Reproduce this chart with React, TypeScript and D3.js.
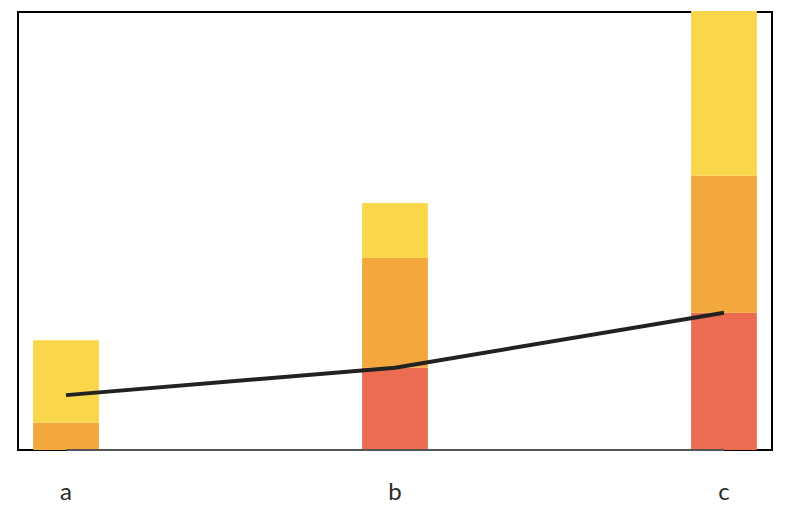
import React from "react";
import * as d3 from "d3";

const categories = ["a", "b", "c"];
const redValues = [0, 3, 5];
const orangeValues = [1, 4, 5];
const yellowValues = [3, 2, 6];
const lineValues = [2, 3, 5];
const seriesKeys = ["red", "orange", "yellow"];
const seriesColors = ["#EC6C52", "#F2A83C", "#F9D64A"];

const W = 792;
const H = 518;
const left = 18, right = 772, top = 11, bottom = 450;

export default function App() {
  const rows = categories.map((c, i) => ({
    cat: c,
    red: redValues[i],
    orange: orangeValues[i],
    yellow: yellowValues[i],
  }));
  const stack = d3.stack<any>().keys(seriesKeys)(rows);
  const x = d3
    .scaleBand()
    .domain(categories)
    .range([left, right])
    .paddingInner(0.8)
    .paddingOuter(0.046);
  const y = d3.scaleLinear().domain([0, 16]).range([bottom, top]);
  const cx = (c: string) => (x(c) as number) + x.bandwidth() / 2;
  const line = d3
    .line<number>()
    .x((_, i) => cx(categories[i]))
    .y((d) => y(d))
    .curve(d3.curveLinear);

  return (
    <svg
      width={W}
      height={H}
      style={{ position: "absolute", left: 0, top: 0 }}
    >
      <rect
        x={left}
        y={top + 1}
        width={right - left}
        height={bottom - top - 1}
        fill="none"
        stroke="#000"
        strokeWidth={2}
      />
      {stack.map((s, si) =>
        s.map((d, i) =>
          d[1] - d[0] > 0 ? (
            <rect
              key={si + "-" + i}
              x={x(categories[i])}
              y={y(d[1])}
              width={x.bandwidth()}
              height={y(d[0]) - y(d[1])}
              fill={seriesColors[si]}
            />
          ) : null
        )
      )}
      <line
        x1={cx(categories[0])}
        x2={cx(categories[categories.length - 1])}
        y1={bottom}
        y2={bottom}
        stroke="#555"
        strokeWidth={2}
      />
      <path
        d={line(lineValues) || ""}
        fill="none"
        stroke="#222"
        strokeWidth={4}
        strokeLinejoin="round"
      />
      {categories.map((c) => (
        <text
          key={c}
          x={cx(c)}
          y={500}
          textAnchor="middle"
          fontFamily="Lato, sans-serif"
          fontSize={24}
          fill="#2a2a2a"
        >
          {c}
        </text>
      ))}
    </svg>
  );
}
